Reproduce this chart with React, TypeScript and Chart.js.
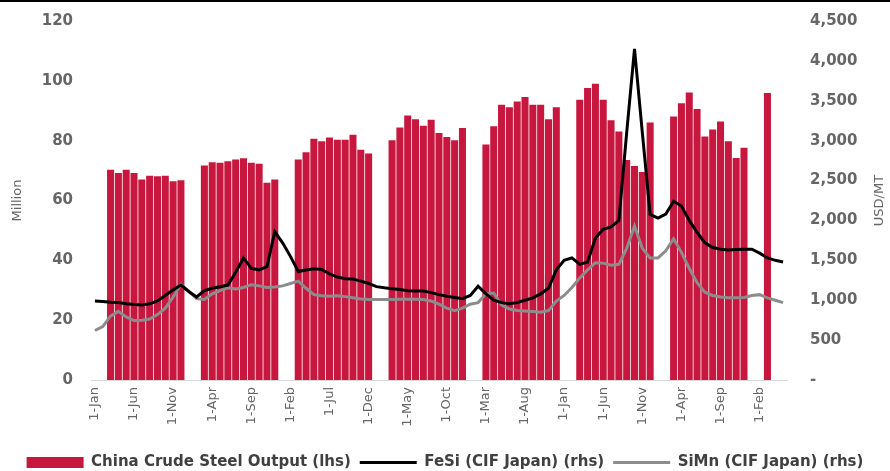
import React, { useEffect, useRef } from 'react';
import { Chart, registerables } from 'chart.js';

Chart.register(...registerables);

// ---------- data ----------
const MONTH_NAMES = ['Jan', 'Feb', 'Mar', 'Apr', 'May', 'Jun', 'Jul', 'Aug', 'Sep', 'Oct', 'Nov', 'Dec'];
const MONTH_COUNT = 89; // Jan-2016 .. May-2023
const categories: string[] = Array.from({ length: MONTH_COUNT }, (_, i) => `1-${MONTH_NAMES[i % 12]}`);

// China crude steel output, million tonnes (lhs)
const steelOutput: (number | null)[] = [
  // 2016
  null, null, 70.3, 69.2, 70.3, 69.2, 67.0, 68.3, 68.1, 68.3, 66.4, 66.8,
  // 2017
  null, null, 71.7, 72.8, 72.6, 73.1, 73.7, 74.1, 72.6, 72.3, 65.9, 67.0,
  // 2018
  null, null, 73.7, 76.1, 80.6, 79.8, 81.1, 80.3, 80.3, 82.0, 77.0, 75.7,
  // 2019
  null, null, 80.1, 84.4, 88.4, 87.2, 85.0, 87.0, 82.6, 81.2, 80.1, 84.2,
  // 2020
  null, null, 78.7, 84.8, 92.0, 91.2, 93.1, 94.6, 92.0, 92.0, 87.2, 91.2,
  // 2021
  null, null, 93.7, 97.6, 99.0, 93.7, 86.8, 83.1, 73.5, 71.5, 69.5, 86.1,
  // 2022
  null, null, 88.1, 92.5, 96.1, 90.6, 81.4, 83.7, 86.4, 79.8, 74.2, 77.6,
  // 2023
  null, null, 95.9, null, null,
];

// FeSi (CIF Japan), USD/MT (rhs)
const fesiPrice: number[] = [
  // 2016
  990, 985, 975, 970, 955, 945, 940, 955, 990, 1060, 1130, 1190,
  // 2017
  1110, 1040, 1120, 1150, 1170, 1190, 1350, 1530, 1400, 1380, 1420, 1860,
  // 2018
  1720, 1550, 1360, 1380, 1395, 1385, 1330, 1290, 1270, 1265, 1240, 1210,
  // 2019
  1170, 1155, 1145, 1135, 1120, 1115, 1115, 1095, 1070, 1050, 1035, 1020,
  // 2020
  1060, 1175, 1080, 1000, 970, 955, 970, 1000, 1030, 1080, 1150, 1380,
  // 2021
  1500, 1530, 1450, 1480, 1780, 1890, 1920, 2000, 3100, 4150, 3100, 2075,
  // 2022
  2030, 2080, 2240, 2180, 2000, 1850, 1720, 1660, 1640, 1630, 1635, 1640,
  // 2023
  1640, 1590, 1530, 1500, 1480,
];

// SiMn (CIF Japan), USD/MT (rhs)
const simnPrice: number[] = [
  // 2016
  620, 670, 800, 860, 790, 745, 750, 765, 820, 900, 1040, 1200,
  // 2017
  1110, 1020, 1010, 1080, 1120, 1155, 1140, 1160, 1195, 1180, 1160, 1165,
  // 2018
  1180, 1210, 1240, 1150, 1070, 1055, 1050, 1055, 1045, 1030, 1015, 1010,
  // 2019
  1010, 1010, 1010, 1012, 1012, 1012, 1010, 990, 950, 900, 870, 900,
  // 2020
  950, 970, 1080, 1090, 940, 890, 870, 865, 860, 850, 870, 990,
  // 2021
  1060, 1160, 1280, 1380, 1470, 1465, 1440, 1450, 1650, 1930, 1650, 1530,
  // 2022
  1530, 1620, 1770, 1600, 1400, 1220, 1100, 1060, 1040, 1030, 1030, 1035,
  // 2023
  1060, 1070, 1030, 1000, 970,
];

const LEFT_TICKS = { min: 0, max: 120, step: 20 };
const RIGHT_TICKS = { min: 0, max: 4500, step: 500 };
const LEFT_TITLE = 'Million';
const RIGHT_TITLE = 'USD/MT';
const SERIES_NAMES = ['China Crude Steel Output (lhs)', 'FeSi (CIF Japan) (rhs)', 'SiMn (CIF Japan) (rhs)'];

const FONT = '"DejaVu Sans", sans-serif';
const TEXT_GREY = '#666666';

export default function App() {
  const canvasRef = useRef<HTMLCanvasElement | null>(null);

  useEffect(() => {
    document.body.style.margin = '0';
    document.body.style.overflow = 'hidden';
    const canvas = canvasRef.current;
    if (!canvas) return;

    const rightTitlePlugin = {
      id: 'rightTitle',
      afterDraw(chart: any) {
        const { ctx, chartArea } = chart;
        ctx.save();
        ctx.translate(880, (chartArea.top + chartArea.bottom) / 2);
        ctx.rotate(-Math.PI / 2);
        ctx.font = `13px ${FONT}`;
        ctx.fillStyle = TEXT_GREY;
        ctx.textAlign = 'center';
        ctx.textBaseline = 'middle';
        ctx.fillText(RIGHT_TITLE, 0, 0);
        ctx.restore();
      },
    };

    const chart = new Chart(canvas, {
      type: 'bar',
      data: {
        labels: categories,
        datasets: [
          {
            type: 'bar',
            label: SERIES_NAMES[0],
            data: steelOutput,
            backgroundColor: '#C8173F',
            borderWidth: 0,
            yAxisID: 'y',
            order: 3,
            categoryPercentage: 1,
            barPercentage: 0.9,
            pointStyle: 'rect',
          } as any,
          {
            type: 'line',
            label: SERIES_NAMES[1],
            data: fesiPrice,
            borderColor: '#000000',
            backgroundColor: '#000000',
            borderWidth: 3,
            pointRadius: 0,
            tension: 0,
            yAxisID: 'y1',
            order: 1,
            pointStyle: 'line',
          } as any,
          {
            type: 'line',
            label: SERIES_NAMES[2],
            data: simnPrice,
            borderColor: '#8C8C8C',
            backgroundColor: '#8C8C8C',
            borderWidth: 3,
            pointRadius: 0,
            tension: 0,
            yAxisID: 'y1',
            order: 2,
            pointStyle: 'line',
          } as any,
        ],
      },
      options: {
        responsive: false,
        animation: false,
        layout: { padding: { top: 19, left: 0, right: 0, bottom: 0 } },
        plugins: {
          tooltip: { enabled: false },
          legend: {
            position: 'bottom',
            labels: {
              usePointStyle: true,
              pointStyleWidth: 57,
              boxHeight: 11,
              padding: 9,
              color: '#404040',
              font: { family: FONT, size: 15, weight: 'bold' },
              sort: (a: any, b: any) => a.datasetIndex - b.datasetIndex,
            },
          },
        },
        scales: {
          x: {
            type: 'category',
            offset: true,
            grid: { display: false, drawTicks: false },
            border: { display: true, color: '#D9D9D9', width: 1 },
            ticks: {
              autoSkip: false,
              maxRotation: 90,
              minRotation: 90,
              padding: 7,
              color: TEXT_GREY,
              font: { family: FONT, size: 13 },
              callback: (_v: any, idx: number) => (idx % 5 === 0 ? categories[idx] : ''),
            },
            afterFit: (scale: any) => {
              scale.height = 66;
            },
          },
          y: {
            position: 'left',
            min: LEFT_TICKS.min,
            max: LEFT_TICKS.max,
            grid: { display: false, drawTicks: false },
            border: { display: false },
            ticks: {
              stepSize: LEFT_TICKS.step,
              padding: 18,
              color: TEXT_GREY,
              font: { family: FONT, size: 15, weight: 'bold' },
            },
            title: {
              display: true,
              text: LEFT_TITLE,
              color: TEXT_GREY,
              font: { family: FONT, size: 13 },
              padding: { top: 10, bottom: 0 },
            },
            afterFit: (scale: any) => {
              scale.width = 91;
              scale.paddingTop = 0;
              scale.paddingBottom = 0;
            },
          },
          y1: {
            position: 'right',
            min: RIGHT_TICKS.min,
            max: RIGHT_TICKS.max,
            grid: { display: false, drawTicks: false },
            border: { display: false },
            ticks: {
              stepSize: RIGHT_TICKS.step,
              padding: 23,
              color: TEXT_GREY,
              font: { family: FONT, size: 15, weight: 'bold' },
              callback: (v: any) => (Number(v) === 0 ? '-' : Number(v).toLocaleString('en-US')),
            },
            afterFit: (scale: any) => {
              scale.width = 103;
              scale.paddingTop = 0;
              scale.paddingBottom = 0;
            },
          },
        },
      },
      plugins: [rightTitlePlugin],
    });

    return () => {
      chart.destroy();
    };
  }, []);

  return (
    <div
      style={{
        width: 890,
        height: 471,
        overflow: 'hidden',
        borderTop: '2px solid #000',
        boxSizing: 'border-box',
        background: '#fff',
      }}
    >
      <canvas ref={canvasRef} width={890} height={478} style={{ display: 'block' }} />
    </div>
  );
}
